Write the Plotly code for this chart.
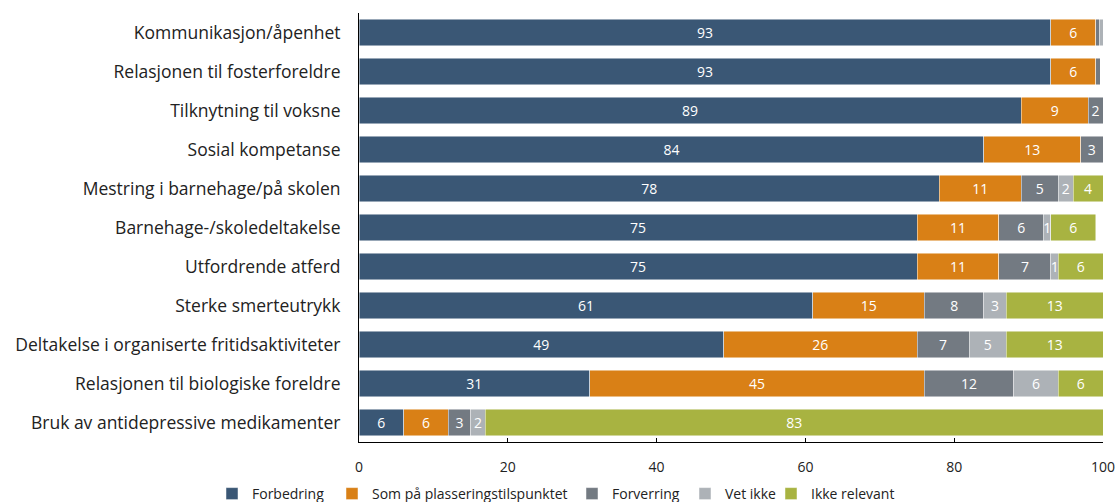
import plotly.graph_objects as go

categories = [
    "Kommunikasjon/åpenhet",
    "Relasjonen til fosterforeldre",
    "Tilknytning til voksne",
    "Sosial kompetanse",
    "Mestring i barnehage/på skolen",
    "Barnehage-/skoledeltakelse",
    "Utfordrende atferd",
    "Sterke smerteutrykk",
    "Deltakelse i organiserte fritidsaktiviteter",
    "Relasjonen til biologiske foreldre",
    "Bruk av antidepressive medikamenter",
]

forbedring = [93, 93, 89, 84, 78, 75, 75, 61, 49, 31, 6]
som_paa = [6, 6, 9, 13, 11, 11, 11, 15, 26, 45, 6]
forverring = [0.5, 0.6, 2, 3, 5, 6, 7, 8, 7, 12, 3]
vet_ikke = [0.5, 0, 0, 0.4, 2, 1, 1, 3, 5, 6, 2]
ikke_relevant = [0, 0, 0, 0, 4, 6, 6, 13, 13, 6, 83]

series = [
    ("Forbedring", forbedring, "#3A5775"),
    ("Som på plasseringstilspunktet", som_paa, "#D98016"),
    ("Forverring", forverring, "#737A82"),
    ("Vet ikke", vet_ikke, "#ADB2B7"),
    ("Ikke relevant", ikke_relevant, "#A8B341"),
]

# left edge (px) of each legend entry's text
legend_text_px = [247, 367, 607, 720, 806]

FONT = "Open Sans, sans-serif"
W, H = 1118, 502
ML, MR, MT, MB = 359, 15, 13, 60
PW = W - ML - MR
PH = H - MT - MB

fig = go.Figure()
for i, (name, vals, color) in enumerate(series):
    labels = [f"{v:g}" if v >= 1 else "" for v in vals]
    fig.add_trace(go.Bar(
        name=name,
        y=categories,
        x=vals,
        orientation="h",
        marker=dict(color=color, line=dict(color="rgba(255,255,255,0.6)", width=0.8)),
        text=labels,
        textposition="inside",
        insidetextanchor="middle",
        textangle=0,
        textfont=dict(color="white", size=14, family=FONT),
        hoverinfo="x+y+name",
        legend="legend" if i == 0 else f"legend{i + 1}",
    ))

# one single-entry legend per series so each entry can be placed on its own
legend_common = dict(
    orientation="h",
    yanchor="middle",
    y=-(494 - (MT + PH)) / PH,
    xanchor="left",
    font=dict(size=14, color="#222222", family=FONT),
    bgcolor="rgba(0,0,0,0)",
    borderwidth=0,
)
legend_layout = {}
for i, tx in enumerate(legend_text_px):
    key = "legend" if i == 0 else f"legend{i + 1}"
    legend_layout[key] = dict(legend_common, x=(tx - 35 - ML) / PW)

fig.update_layout(
    barmode="stack",
    bargap=0.33,
    width=W,
    height=H,
    margin=dict(l=ML, r=MR, t=MT, b=MB, autoexpand=False),
    paper_bgcolor="white",
    plot_bgcolor="white",
    font=dict(family=FONT, color="#222222", size=14),
    uniformtext=dict(minsize=14, mode="show"),
    showlegend=True,
    **legend_layout,
)

fig.update_xaxes(
    range=[0, 100],
    tickvals=[0, 20, 40, 60, 80, 100],
    showgrid=False,
    zeroline=False,
    showline=True,
    linecolor="black",
    linewidth=1,
    ticks="inside",
    ticklen=4,
    tickcolor="black",
    tickfont=dict(size=14, color="#222222"),
    ticklabelstandoff=12,
    automargin=False,
)
fig.update_yaxes(
    autorange="reversed",
    showgrid=False,
    showline=True,
    linecolor="black",
    linewidth=1,
    ticks="",
    tickfont=dict(size=17.5, color="#222222"),
    ticklabelstandoff=14,
    automargin=False,
)

fig.write_html("out.html")
